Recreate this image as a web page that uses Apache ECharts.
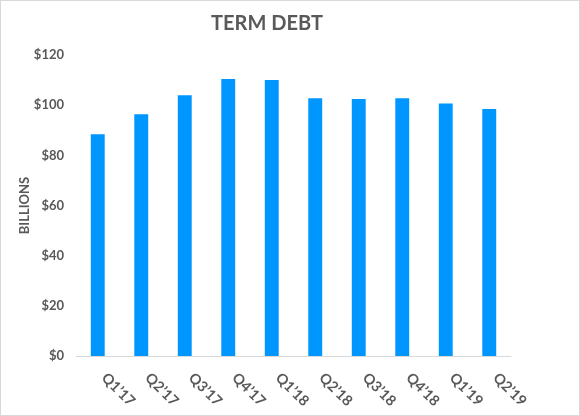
<!DOCTYPE html>
<html>
<head>
<meta charset="utf-8">
<script src="https://cdn.jsdelivr.net/npm/echarts@6/dist/echarts.min.js"></script>
<style>
  html, body { margin: 0; padding: 0; background: #fff; }
  #chart { width: 578px; height: 414px; border: 1px solid #d9d9d9; }
</style>
</head>
<body>
<div id="chart"></div>
<script>
const categories = ["Q1’17", "Q2’17", "Q3’17", "Q4’17", "Q1’18", "Q2’18", "Q3’18", "Q4’18", "Q1’19", "Q2’19"];
const termDebt = [88.4, 96.4, 104.0, 110.4, 110.0, 102.8, 102.5, 102.8, 100.7, 98.5];
const yTicks = [0, 20, 40, 60, 80, 100, 120];

const font = 'Lato, "Open Sans", sans-serif';
const textColor = '#595959';

const chart = echarts.init(document.getElementById('chart'));
chart.setOption({
  animation: false,
  title: {
    text: 'TERM DEBT',
    left: 261, top: 8, textAlign: 'center',
    textStyle: { fontFamily: font, fontWeight: 'bold', fontSize: 20, color: textColor }
  },
  grid: { left: 75, right: 68, top: 54, bottom: 59, containLabel: false },
  xAxis: {
    type: 'category',
    data: categories,
    axisLine: { lineStyle: { color: '#d9d9d9', width: 1 } },
    axisTick: { show: false },
    axisLabel: {
      rotate: -45, margin: 13, interval: 0,
      padding: [0, 0, 0, 9],
      fontFamily: font, fontWeight: 'bold', fontSize: 14.5, color: textColor
    }
  },
  yAxis: {
    type: 'value',
    min: yTicks[0], max: yTicks[yTicks.length - 1], interval: 20,
    name: 'BILLIONS',
    nameLocation: 'middle',
    nameGap: 45,
    nameMoveOverlap: false,
    nameRotate: 90,
    nameTextStyle: { fontFamily: font, fontWeight: 'bold', fontSize: 13, color: textColor },
    axisLine: { show: false },
    axisTick: { show: false },
    splitLine: { show: false },
    axisLabel: {
      margin: 12,
      fontFamily: font, fontWeight: 'bold', fontSize: 13, color: textColor,
      formatter: v => '$' + v
    }
  },
  series: [{
    type: 'bar',
    data: termDebt,
    barWidth: '32%',
    itemStyle: { color: '#0096ff' }
  }]
});
</script>
</body>
</html>
